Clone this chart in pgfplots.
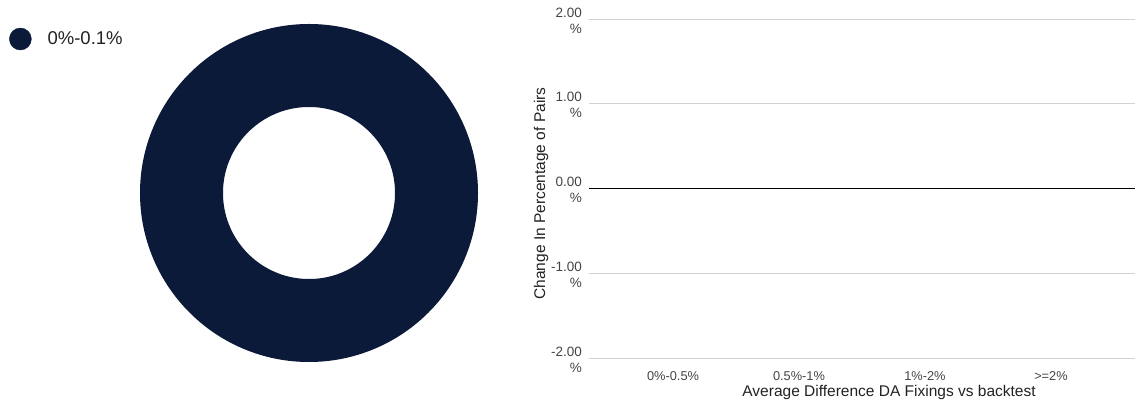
\documentclass[border=0pt]{standalone}
\usepackage{fontspec}
\setmainfont{Liberation Sans}
\usepackage{pgfplots}
\usepackage{pgfplotstable}
\pgfplotsset{compat=1.18}

\definecolor{navy}{HTML}{0C1A3A}
\definecolor{gridgray}{HTML}{D2D2D2}
\definecolor{ticktext}{HTML}{444444}
\definecolor{labeltext}{HTML}{222222}

% donut: one slice covering 100 %
\pgfplotstableread{
x y share
0 0 100
}\donutdata

% change in percentage of pairs per bucket
\pgfplotstableread{
idx change
0 0
1 0
2 0
3 0
}\changedata

\begin{document}
\begin{tikzpicture}
\path[use as bounding box] (0,0) rectangle (1135pt,407pt);

\begin{axis}[
    at={(309pt,214pt)}, anchor=center,
    width=338pt, height=338pt, scale only axis,
    hide axis, clip=false,
    xmin=-1, xmax=1, ymin=-1, ymax=1,
    legend style={at={(-0.3876,0.9556)}, anchor=west, draw=none, fill=none,
        inner sep=0pt, font=\fontsize{18.5}{22}\selectfont, text=labeltext,
        /tikz/every odd column/.append style={column sep=14pt}},
    legend image code/.code={\fill[navy] (0pt,0pt) circle (11pt);},
    legend cell align=left,
]
\addplot[only marks, mark=o, mark size=127.5pt,
    mark options={line width=83pt, draw=navy}] table[x=x, y=y] {\donutdata};
\addlegendentry{0\%-0.1\%}
\end{axis}

\begin{axis}[
    at={(589pt,49pt)}, anchor=south west,
    width=546pt, height=339pt, scale only axis,
    xmin=-0.667, xmax=3.667, ymin=-2, ymax=2,
    /pgf/number format/assume math mode=true,
    axis line style={draw=none}, major tick length=0pt,
    ytick={-2,-1,1,2}, extra y ticks={0},
    extra y tick style={grid style={black, line width=1pt}},
    ymajorgrids, grid style={gridgray, line width=1pt},
    xtick=data, xticklabels={0\%-0.5\%, 0.5\%-1\%, 1\%-2\%, >=2\%},
    xticklabel style={font=\fontsize{12.8}{15}\selectfont, text=ticktext, inner sep=0pt, yshift=-13pt},
    yticklabel={\pgfmathprintnumber[fixed, fixed zerofill, precision=2]{\tick}\\\%},
    yticklabel style={align=right, font=\fontsize{13.5}{16}\selectfont, text=ticktext, inner sep=0pt, xshift=-7pt, yshift=-1.5pt},
    ylabel={Change In Percentage of Pairs},
    ylabel style={at={(axis description cs:-0.0879,0.485)}, anchor=center,
        font=\fontsize{15.5}{18}\selectfont, text=labeltext},
    xlabel={Average Difference DA Fixings vs backtest},
    xlabel style={at={(axis description cs:0.5495,-0.1003)}, anchor=center,
        font=\fontsize{15.5}{18}\selectfont, text=labeltext},
]
\addplot[ybar, bar width=40pt, fill=navy, draw=none] table[x=idx, y=change] {\changedata};
\end{axis}
\end{tikzpicture}
\end{document}
